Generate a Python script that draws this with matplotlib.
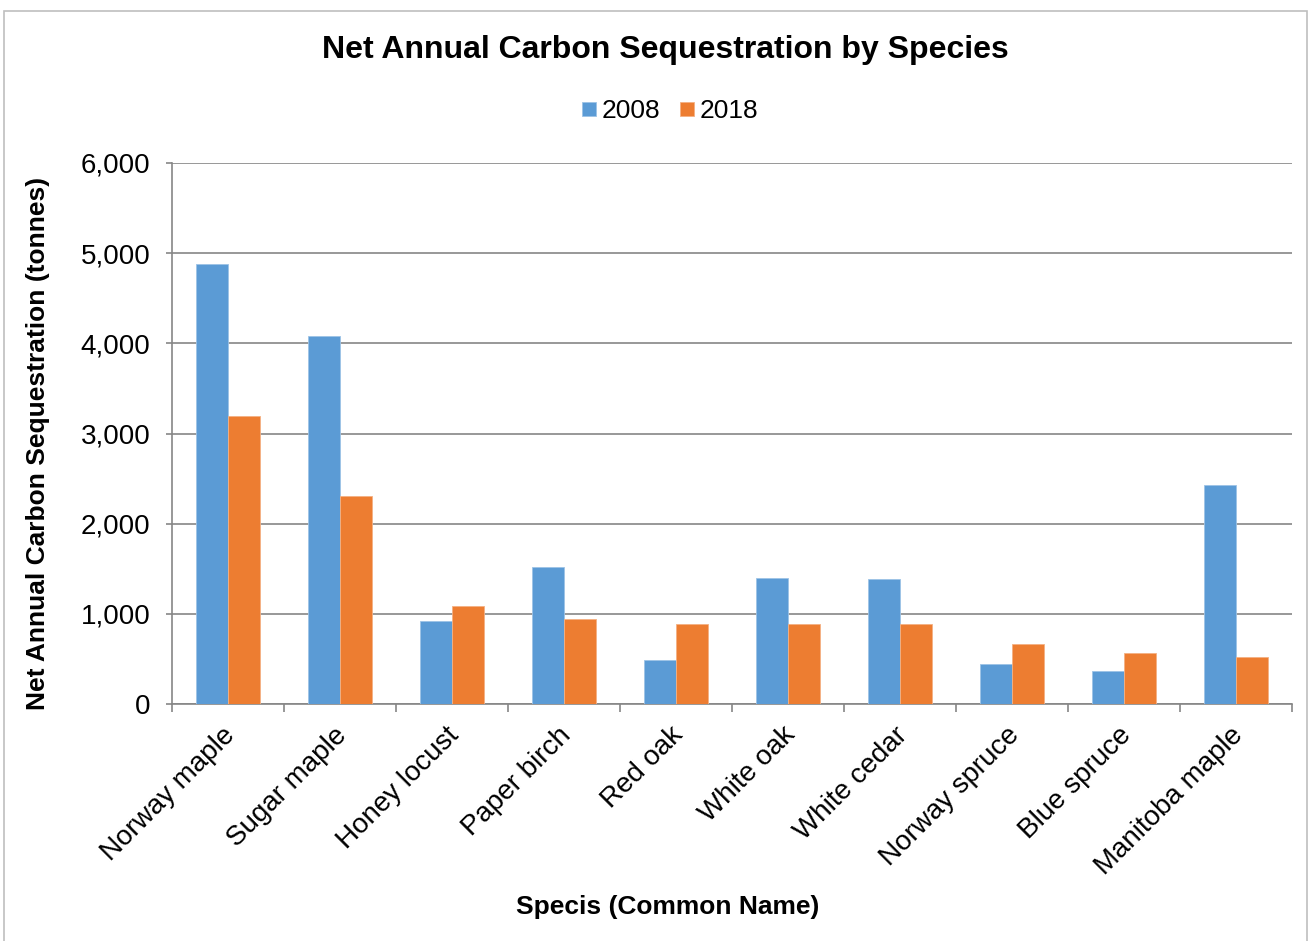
import matplotlib.pyplot as plt
import matplotlib.patches as patches
import matplotlib.transforms as mtransforms
import numpy as np

plt.rcParams['font.family'] = ['Liberation Sans', 'DejaVu Sans']

# ===== DONNEES ===== #
species = ["Norway maple", "Sugar maple", "Honey locust", "Paper birch", "Red oak",
           "White oak", "White cedar", "Norway spruce", "Blue spruce", "Manitoba maple"]
seq_2008 = [4880, 4080, 920, 1520, 490, 1400, 1390, 445, 370, 2430]
seq_2018 = [3190, 2310, 1090, 940, 890, 890, 890, 670, 565, 520]
years = ["2008", "2018"]

blue = "#5B9BD5"
orange = "#ED7D31"
grey = "#868686"

W, H = 1310, 941
fig = plt.figure(figsize=(W / 100, H / 100), dpi=100)
ax = fig.add_axes([172 / W, 1 - 704 / H, 1120 / W, 541 / H])

x = np.arange(len(species))
bw = 0.286
ax.bar(x - bw / 2, seq_2008, bw, color=blue, label=years[0], edgecolor="#9DC3E6", linewidth=0.6, zorder=3)
ax.bar(x + bw / 2, seq_2018, bw, color=orange, label=years[1], edgecolor="#F4B183", linewidth=0.6, zorder=3)

ax.set_xlim(-0.5, len(species) - 0.5)
ax.set_ylim(0, 6000)
ax.set_yticks(np.arange(0, 6001, 1000))
ax.yaxis.set_major_formatter(plt.FuncFormatter(lambda v, p: f"{int(v):,}"))
ax.grid(axis="y", color=grey, linewidth=1.2, zorder=0)

# ticks x : etiquettes au centre, traits aux limites
ax.set_xticks(x)
ax.set_xticklabels(species, rotation=45, ha="right", va="top", rotation_mode="anchor")
ax.set_xticks(np.arange(-0.5, len(species), 1), minor=True)
ax.tick_params(axis="x", which="major", length=0, pad=13, labelsize=20)
ax.tick_params(axis="x", which="minor", length=5.5, width=1.2, color=grey, direction="out")
ax.tick_params(axis="y", length=4.5, width=1.2, color=grey, pad=11, labelsize=20)

# petit decalage des etiquettes vers la gauche
shift = mtransforms.ScaledTranslation(-6 / 100, 0, fig.dpi_scale_trans)
for lab in ax.get_xticklabels():
    lab.set_transform(lab.get_transform() + shift)

for side in ["top", "right"]:
    ax.spines[side].set_visible(False)
for side in ["left", "bottom"]:
    ax.spines[side].set_color(grey)
    ax.spines[side].set_linewidth(1.2)

# titres
fig.text(665 / W, 1 - 50 / H, "Net Annual Carbon Sequestration by Species",
         ha="center", va="center", fontsize=23, fontweight="bold")
fig.text(38 / W, 1 - 443 / H, "Net Annual Carbon Sequestration (tonnes)",
         ha="center", va="center", rotation=90, fontsize=19, fontweight="bold")
fig.text(668 / W, 1 - 907 / H, "Specis (Common Name)",
         ha="center", va="center", fontsize=19, fontweight="bold")

fig.legend(loc="center", bbox_to_anchor=(670 / W, 1 - 111 / H), ncol=2, frameon=False,
           fontsize=19, handlelength=0.53, handleheight=0.45, handletextpad=0.2,
           columnspacing=0.75)

# cadre autour du graphique
fig.patches.append(patches.Rectangle((4 / W, -0.01), 1303 / W, 1 - 11 / H + 0.01,
                                     transform=fig.transFigure, fill=False,
                                     edgecolor="#BFBFBF", linewidth=1.2))

fig.savefig("out.png", dpi=100)
